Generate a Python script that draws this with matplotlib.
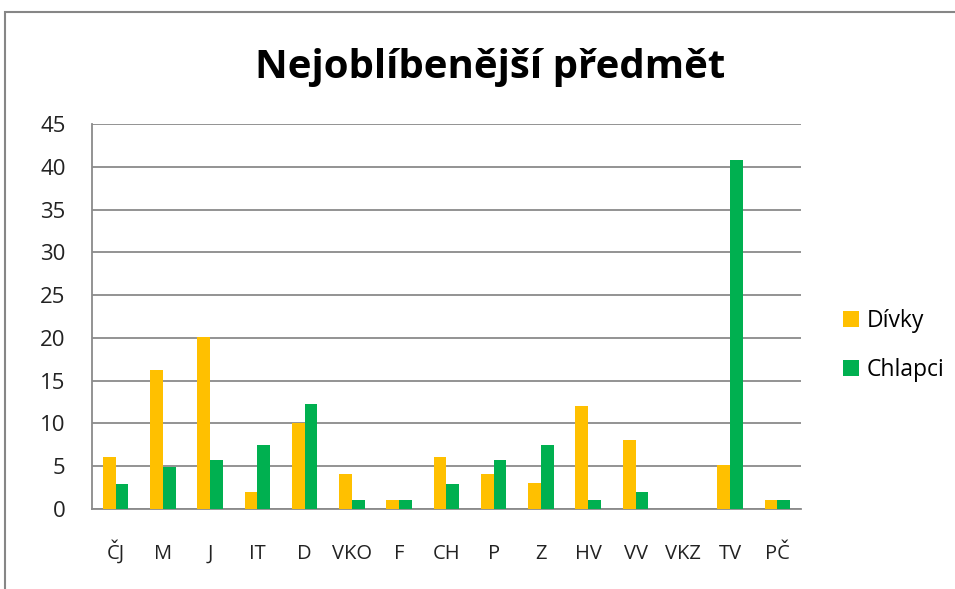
import numpy as np
import matplotlib.pyplot as plt
from matplotlib.patches import Rectangle

# data
predmety = ['ČJ', 'M', 'J', 'IT', 'D', 'VKO', 'F', 'CH', 'P', 'Z', 'HV', 'VV', 'VKZ', 'TV', 'PČ']
divky = [6.1, 16.2, 20.1, 2.0, 10.0, 4.1, 1.0, 6.1, 4.1, 3.0, 12.0, 8.1, 0, 5.1, 1.0]
chlapci = [2.9, 4.9, 5.7, 7.5, 12.3, 1.0, 1.0, 2.9, 5.7, 7.5, 1.0, 2.0, 0, 40.8, 1.0]

plt.rcParams['font.family'] = ['Open Sans', 'DejaVu Sans']

fig = plt.figure(figsize=(9.55, 5.89), dpi=100)
ax = fig.add_axes([0.0963, 0.1358, 0.7424, 0.6537])

x = np.arange(len(predmety))
w = 0.27
ax.bar(x - w / 2, divky, w, color='#FFC000', label='Dívky', zorder=3)
ax.bar(x + w / 2, chlapci, w, color='#00B050', label='Chlapci', zorder=3)

ax.set_xlim(-0.5, len(predmety) - 0.5)
ax.set_ylim(0, 45)
ax.set_yticks(range(0, 46, 5))
ax.set_xticks(x)
ax.set_xticklabels(predmety, va='baseline')
ax.tick_params(length=0, colors='#222222')
ax.tick_params(axis='y', pad=19, labelsize=16)
ax.tick_params(axis='x', pad=36, labelsize=14.5)
ax.grid(axis='y', color='#8a8a8a', linewidth=1.3, zorder=0)
for s in ['top', 'right']:
    ax.spines[s].set_visible(False)
ax.spines['left'].set_color('#8a8a8a')
ax.spines['bottom'].set_color('#8a8a8a')
ax.spines['left'].set_linewidth(1.3)
ax.spines['bottom'].set_linewidth(1.3)

fig.text(0.513, 0.885, 'Nejoblíbenější předmět', ha='center', va='center',
         fontsize=29, fontweight='bold')

fig.legend(loc='center left', bbox_to_anchor=(0.8827, 0.4134), frameon=False,
           borderpad=0, borderaxespad=0,
           fontsize=16.5, handlelength=0.7, handleheight=0.7, handletextpad=0.35,
           labelspacing=1.1)

# outer chart border
fig.patches.append(Rectangle((5 / 955, -0.1), 1.0, (589 - 12) / 589 + 0.1,
                             transform=fig.transFigure, fill=False,
                             edgecolor='#868686', linewidth=1.5))

plt.savefig('out.png', dpi=100)
